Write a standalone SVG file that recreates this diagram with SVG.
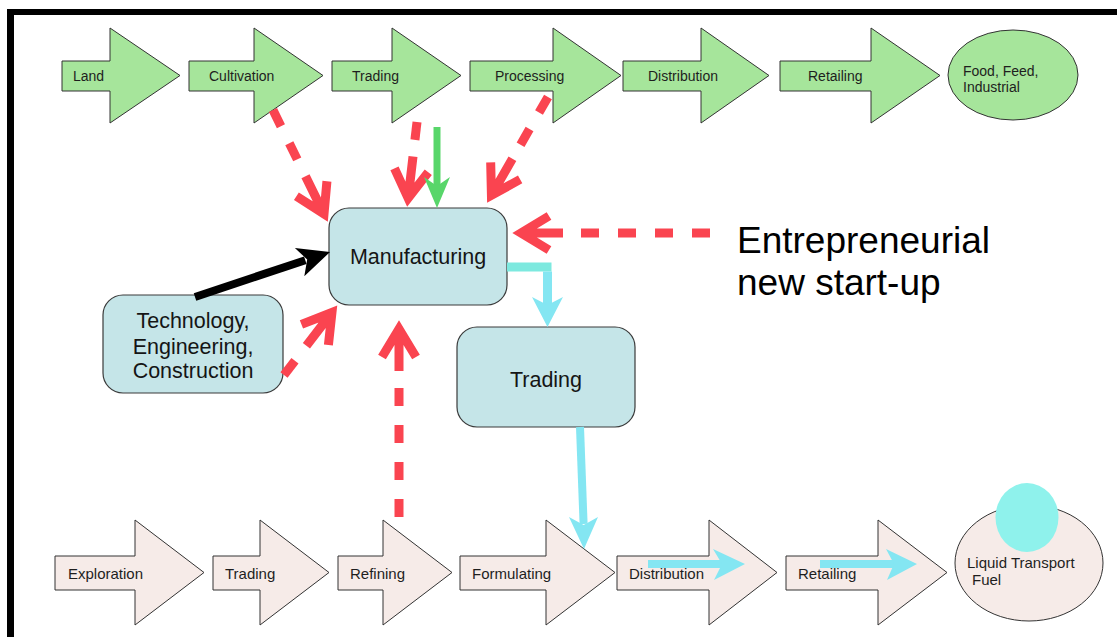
<svg xmlns="http://www.w3.org/2000/svg" width="1117" height="637" viewBox="0 0 1117 637">
<style>
.g{fill:#a6e59b;stroke:#333;stroke-width:1}
.p{fill:#f6ebe8;stroke:#333;stroke-width:1}
.box{fill:#c5e5e8;stroke:#3a3a3a;stroke-width:1.2}
.t14{font-family:"Liberation Sans",Arial,Helvetica,sans-serif;font-size:14px;fill:#1e1e1e}
.t15{font-family:"Liberation Sans",Arial,Helvetica,sans-serif;font-size:15px;fill:#1e1e1e}
.t21{font-family:"Liberation Sans",Arial,Helvetica,sans-serif;font-size:21.5px;fill:#151515;text-anchor:middle}
.t37{font-family:"Liberation Sans",Arial,Helvetica,sans-serif;font-size:37px;fill:#000}
.rd{fill:none;stroke:#fa4450;stroke-width:9;stroke-dasharray:18 19;marker-end:url(#redChev)}
</style>
<defs>
<marker id="redChev" markerUnits="userSpaceOnUse" orient="auto" viewBox="-5 -30 70 60" markerWidth="70" markerHeight="60" refX="0" refY="0" overflow="visible">
<path d="M0 0 H42 M14 -17 L42 0 L14 17" fill="none" stroke="#fa4450" stroke-width="9" stroke-linejoin="miter" stroke-miterlimit="10"/>
</marker>
</defs>
<rect width="1117" height="637" fill="#fff"/>
<g id="border">
<rect x="7" y="9" width="1110" height="6" fill="#000"/>
<rect x="7" y="9" width="7" height="628" fill="#000"/>
</g>
<g id="top-land"><polygon class="g" points="62,61 110,61 110,28 180,75.5 110,123 110,91 62,91"/><text class="t14" x="73" y="81">Land</text></g>
<g id="top-cultivation"><polygon class="g" points="189,61 254,61 254,28 323,75.5 254,123 254,91 189,91"/><text class="t14" x="209" y="81">Cultivation</text></g>
<g id="top-trading"><polygon class="g" points="332,61 392,61 392,28 461,75.5 392,123 392,91 332,91"/><text class="t14" x="352" y="81">Trading</text></g>
<g id="top-processing"><polygon class="g" points="470,61 553,61 553,28 621,75.5 553,123 553,91 470,91"/><text class="t14" x="495" y="81">Processing</text></g>
<g id="top-distribution"><polygon class="g" points="623,61 701,61 701,28 769,75.5 701,123 701,91 623,91"/><text class="t14" x="648" y="81">Distribution</text></g>
<g id="top-retailing"><polygon class="g" points="780,61 871,61 871,28 940,75.5 871,123 871,91 780,91"/><text class="t14" x="808" y="81">Retailing</text></g>
<g id="top-food"><ellipse class="g" cx="1013" cy="75" rx="65" ry="45"/><text class="t14" x="963" y="76">Food, Feed,</text><text class="t14" x="963" y="92">Industrial</text></g>
<g id="bot-exploration"><polygon class="p" points="55,556 135,556 135,520 204,572.5 135,625 135,590 55,590"/><text class="t15" x="68" y="579">Exploration</text></g>
<g id="bot-trading"><polygon class="p" points="213,556 260,556 260,520 329,572.5 260,625 260,590 213,590"/><text class="t15" x="225" y="579">Trading</text></g>
<g id="bot-refining"><polygon class="p" points="338,556 383,556 383,520 452,572.5 383,625 383,590 338,590"/><text class="t15" x="350" y="579">Refining</text></g>
<g id="bot-formulating"><polygon class="p" points="460,556 546,556 546,520 615,572.5 546,625 546,590 460,590"/><text class="t15" x="472" y="579">Formulating</text></g>
<g id="bot-distribution"><polygon class="p" points="617,556 709,556 709,520 777,572.5 709,625 709,590 617,590"/><text class="t15" x="629" y="579">Distribution</text></g>
<g id="bot-retailing"><polygon class="p" points="786,556 878,556 878,520 947,572.5 878,625 878,590 786,590"/><text class="t15" x="798" y="579">Retailing</text></g>
<g id="bot-fuel"><ellipse class="p" cx="1029" cy="563" rx="74" ry="58"/><text class="t15" x="967" y="568">Liquid Transport</text><text class="t15" x="972" y="585">Fuel</text></g>
<g id="cyan-circle"><ellipse cx="1027" cy="517.5" rx="31.5" ry="34.5" fill="#8ff2ec"/></g>
<g id="manufacturing"><rect class="box" x="329" y="208" width="178" height="97" rx="20"/><text class="t21" x="418" y="264">Manufacturing</text></g>
<g id="technology"><rect class="box" x="103" y="295" width="180" height="98" rx="20"/><text class="t21" x="193" y="328">Technology,</text><text class="t21" x="193" y="354">Engineering,</text><text class="t21" x="193" y="378">Construction</text></g>
<g id="trading-mid"><rect class="box" x="457" y="327" width="178" height="100" rx="20"/><text class="t21" x="546" y="387">Trading</text></g>
<g id="entrepreneurial"><text class="t37" x="737" y="253">Entrepreneurial</text><text class="t37" x="737" y="295">new start-up</text></g>
<g id="connectors">
<path class="rd" d="M710 233 L563 233"/>
<path class="rd" d="M273 110 L305.5 176.2"/>
<path class="rd" d="M417 122 L413 156.4"/>
<path class="rd" d="M548 97 L512.4 158.8"/>
<path class="rd" d="M284 375 L306.4 345.8"/>
<path class="rd" d="M399 517 L399 371"/>
<line x1="195" y1="297" x2="305.3" y2="260.2" stroke="#000" stroke-width="8"/>
<polygon points="330,252 294.9,247.9 307.2,259.6 304.3,276.3" fill="#000"/>
<line x1="437" y1="127" x2="437" y2="190" stroke="#58d66a" stroke-width="7"/>
<polygon points="437,208 424,177 437,186 450,177" fill="#58d66a"/>
<line x1="507" y1="267" x2="551.5" y2="267" stroke="#7de9df" stroke-width="9"/>
<line x1="547.5" y1="271.5" x2="547.5" y2="305" stroke="#84e6f2" stroke-width="9"/>
<polygon points="547.5,327 532,297 547.5,305 563,297" fill="#84e6f2"/>
<line x1="580" y1="427" x2="583.6" y2="524" stroke="#84e6f2" stroke-width="8"/>
<polygon points="584,549 569,517 583.7,525 598,517" fill="#84e6f2"/>
<line x1="648" y1="564" x2="722" y2="564" stroke="#84e6f2" stroke-width="8"/>
<polygon points="745,564 713,549 722,564 714,580" fill="#84e6f2"/>
<line x1="820" y1="564" x2="894" y2="564" stroke="#84e6f2" stroke-width="8"/>
<polygon points="917,564 886,549 894,564 887,580" fill="#84e6f2"/>
</g>
</svg>
